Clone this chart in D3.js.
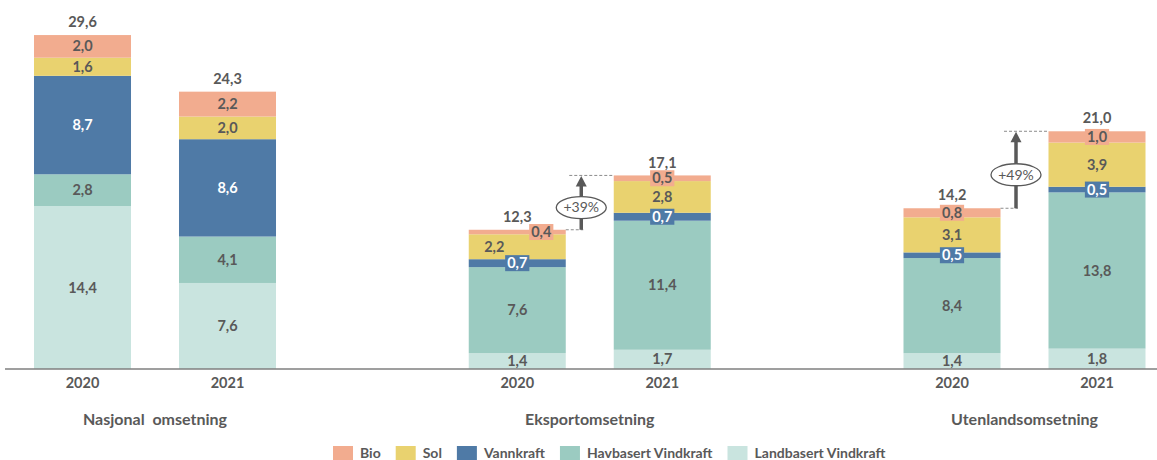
<!doctype html>
<html>
<head>
    <meta charset="utf-8">
    <title>Omsetning fornybar energi</title>
    <script src="https://d3js.org/d3.v7.min.js"></script>
    <style type="text/css">
        html, body { width: 100%; height: 100%; margin: 0; background: #fff; }
        #chart { width: 1157px; height: 460px; }
        text { font-family: Lato, "Open Sans", sans-serif; fill: #595959; }
    </style>
</head>

<body>
    <div id="chart"></div>

    <script type="text/javascript">
        // data
        var groups = ["Nasjonal  omsetning", "Eksportomsetning", "Utenlandsomsetning"];
        var years = ["2020", "2021"];
        var series = ["Landbasert Vindkraft", "Havbasert Vindkraft", "Vannkraft", "Sol", "Bio"];

        // one value per bar, order: Nasjonal 2020, 2021, Eksport 2020, 2021, Utenlands 2020, 2021
        var landbasert = [14.4, 7.6, 1.4, 1.7, 1.4, 1.8];
        var havbasert  = [2.8, 4.1, 7.6, 11.4, 8.4, 13.8];
        var vannkraft  = [8.7, 8.6, 0.7, 0.7, 0.5, 0.5];
        var sol        = [1.6, 2.0, 2.2, 2.8, 3.1, 3.9];
        var bio        = [2.0, 2.2, 0.4, 0.5, 0.8, 1.0];
        var totals     = ["29,6", "24,3", "12,3", "17,1", "14,2", "21,0"];
        var growth     = [null, "+39%", "+49%"];

        var colors = {
            "Bio": "#F2AC8F",
            "Sol": "#E9D26F",
            "Vannkraft": "#4F7AA6",
            "Havbasert Vindkraft": "#9BCBC1",
            "Landbasert Vindkraft": "#C9E4DF"
        };
        var legendOrder = ["Bio", "Sol", "Vannkraft", "Havbasert Vindkraft", "Landbasert Vindkraft"];

        // small nudges for labels that would collide
        var labelShift = { "1|0|Bio": 24, "1|0|Sol": -23 };

        var valuesBySeries = {
            "Landbasert Vindkraft": landbasert,
            "Havbasert Vindkraft": havbasert,
            "Vannkraft": vannkraft,
            "Sol": sol,
            "Bio": bio
        };

        var rows = [];
        groups.forEach(function(g, gi) {
            years.forEach(function(yr, yi) {
                var i = gi * 2 + yi;
                var row = { group: g, gi: gi, year: yr, yi: yi, total: totals[i] };
                series.forEach(function(s) { row[s] = valuesBySeries[s][i]; });
                rows.push(row);
            });
        });

        var width = 1157, height = 460;
        var baseY = 369;

        var svg = d3.select("#chart").append("svg")
            .attr("width", width)
            .attr("height", height);

        var x0 = d3.scalePoint().domain(groups).range([155, 1024.5]);
        var x1 = d3.scaleBand().domain(years).range([-145, 145])
            .paddingInner(0.331).paddingOuter(0.1655);
        var y = d3.scaleLinear().domain([0, 30]).range([baseY, baseY - 30 * 11.32]);

        var stack = d3.stack().keys(series)(rows);

        function barX(d) { return x0(d.group) + x1(d.year); }
        var bw = x1.bandwidth();

        // bars
        var layers = svg.append("g").selectAll("g")
            .data(stack)
            .enter().append("g")
            .attr("fill", function(d) { return colors[d.key]; });

        layers.selectAll("rect")
            .data(function(d) { return d; })
            .enter().append("rect")
            .attr("x", function(d) { return barX(d.data); })
            .attr("y", function(d) { return y(d[1]); })
            .attr("width", bw)
            .attr("height", function(d) { return y(d[0]) - y(d[1]); });

        // segment labels
        var labels = svg.append("g");
        stack.forEach(function(layer) {
            layer.forEach(function(d) {
                var v = d[1] - d[0];
                var key = d.data.gi + "|" + d.data.yi + "|" + layer.key;
                var cx = barX(d.data) + bw / 2 + (labelShift[key] || 0);
                var cy = (y(d[0]) + y(d[1])) / 2;
                var txt = d3.format(".1f")(v).replace(".", ",");
                var g = labels.append("g");
                var t = g.append("text")
                    .attr("x", cx)
                    .attr("y", cy)
                    .attr("dy", "0.35em")
                    .attr("text-anchor", "middle")
                    .style("font-size", "14.5px")
                    .style("font-weight", "bold")
                    .style("fill", layer.key === "Vannkraft" ? "#ffffff" : "#595959")
                    .text(txt);
                if (v < 1.1) {
                    var w = t.node().getComputedTextLength() + 4;
                    g.insert("rect", "text")
                        .attr("x", cx - w / 2)
                        .attr("y", cy - 8)
                        .attr("width", w)
                        .attr("height", 16)
                        .attr("fill", colors[layer.key]);
                }
            });
        });

        // totals
        svg.append("g").selectAll("text")
            .data(rows)
            .enter().append("text")
            .attr("x", function(d) { return barX(d) + bw / 2; })
            .attr("y", function(d) { return y(d3.sum(series, function(s) { return d[s]; })) - 13; })
            .attr("dy", "0.35em")
            .attr("text-anchor", "middle")
            .style("font-size", "14.5px")
            .style("font-weight", "bold")
            .text(function(d) { return d.total; });

        // axis line
        svg.append("line")
            .attr("x1", 5).attr("x2", width)
            .attr("y1", baseY).attr("y2", baseY)
            .attr("stroke", "#7f7f7f")
            .attr("stroke-width", 1.5);

        // year labels
        svg.append("g").selectAll("text")
            .data(rows)
            .enter().append("text")
            .attr("x", function(d) { return barX(d) + bw / 2; })
            .attr("y", 383)
            .attr("dy", "0.35em")
            .attr("text-anchor", "middle")
            .style("font-size", "14.5px")
            .style("font-weight", "bold")
            .text(function(d) { return d.year; });

        // group labels
        svg.append("g").selectAll("text")
            .data(groups)
            .enter().append("text")
            .attr("x", function(d) { return x0(d); })
            .attr("y", 419)
            .attr("dy", "0.35em")
            .attr("text-anchor", "middle")
            .attr("xml:space", "preserve")
            .style("white-space", "pre")
            .style("font-size", "16px")
            .style("font-weight", "bold")
            .text(function(d) { return d; });

        // growth arrows
        groups.forEach(function(g, gi) {
            if (!growth[gi]) return;
            var a = rows[gi * 2], b = rows[gi * 2 + 1];
            var sumA = d3.sum(series, function(s) { return a[s]; });
            var sumB = d3.sum(series, function(s) { return b[s]; });
            var yA = y(sumA), yB = y(sumB);
            var ax = barX(a) + bw + 15.5;
            var bx = barX(b);
            var ann = svg.append("g");

            ann.append("line")
                .attr("x1", barX(a) + bw).attr("x2", ax + 2)
                .attr("y1", yA).attr("y2", yA)
                .attr("stroke", "#8c8c8c").attr("stroke-width", 1)
                .attr("stroke-dasharray", "3,2");
            ann.append("line")
                .attr("x1", ax - 12).attr("x2", bx)
                .attr("y1", yB).attr("y2", yB)
                .attr("stroke", "#8c8c8c").attr("stroke-width", 1)
                .attr("stroke-dasharray", "3,2");

            ann.append("line")
                .attr("x1", ax).attr("x2", ax)
                .attr("y1", yA).attr("y2", yB + 8)
                .attr("stroke", "#595959").attr("stroke-width", 3.5);
            ann.append("path")
                .attr("d", "M" + ax + "," + (yB + 0.5) + " L" + (ax - 5.5) + "," + (yB + 11) + " L" + (ax + 5.5) + "," + (yB + 11) + " Z")
                .attr("fill", "#595959");

            var ey = (yA + yB) / 2 + 5;
            ann.append("ellipse")
                .attr("cx", ax).attr("cy", ey)
                .attr("rx", 25).attr("ry", 11)
                .attr("fill", "#fff")
                .attr("stroke", "#595959").attr("stroke-width", 1.3);
            ann.append("text")
                .attr("x", ax).attr("y", ey)
                .attr("dy", "0.35em")
                .attr("text-anchor", "middle")
                .style("font-size", "14px")
                .text(growth[gi]);
        });

        // legend
        var legend = svg.append("g");
        var lx = 333;
        legendOrder.forEach(function(s) {
            legend.append("rect")
                .attr("x", lx).attr("y", 446)
                .attr("width", 20).attr("height", 14)
                .attr("fill", colors[s]);
            var t = legend.append("text")
                .attr("x", lx + 27).attr("y", 453)
                .attr("dy", "0.35em")
                .style("font-size", "14px")
                .style("font-weight", "bold")
                .text(s);
            lx += 27 + t.node().getComputedTextLength() + 15;
        });
    </script>
</body>
</html>
